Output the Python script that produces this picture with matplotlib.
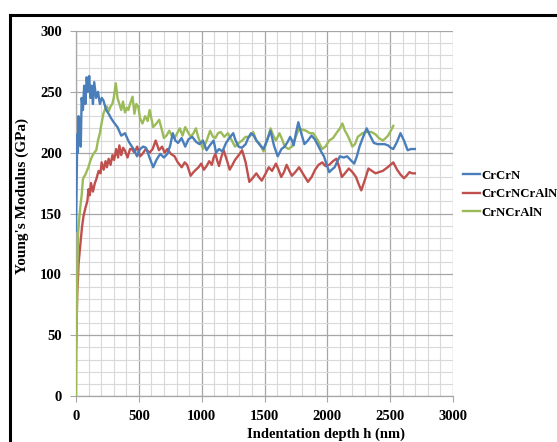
import matplotlib
matplotlib.use("Agg")
import matplotlib.pyplot as plt
from matplotlib.lines import Line2D
from matplotlib.ticker import MultipleLocator

# CrCrN (blue)
crcrn_h = [0, 5, 10, 15, 20, 25, 30, 38, 45, 55, 65, 75, 85, 95, 105, 115, 125, 135, 145,
           160, 175, 190, 205, 218, 240, 260, 275, 300, 330, 360, 390, 420, 445, 465, 485,
           510, 535, 557, 585, 614, 640, 670, 700, 727, 750, 770, 790, 812, 840, 869, 895,
           925, 955, 982, 1010, 1039, 1065, 1095, 1115, 1138, 1165, 1194, 1220, 1251, 1270,
           1293, 1320, 1350, 1370, 1393, 1415, 1435, 1465, 1492, 1520, 1548, 1575, 1605,
           1635, 1661, 1685, 1704, 1718, 1732, 1750, 1769, 1795, 1818, 1845, 1874, 1900,
           1931, 1950, 1973, 1995, 2015, 2035, 2058, 2080, 2100, 2130, 2157, 2185, 2214,
           2235, 2256, 2285, 2313, 2340, 2370, 2400, 2426, 2455, 2483, 2505, 2525, 2555,
           2582, 2610, 2639, 2665, 2696]
crcrn_e = [136, 175, 215, 200, 230, 210, 228, 205, 245, 235, 255, 240, 262, 250, 263, 245,
           255, 240, 258, 245, 250, 240, 245, 243, 235, 232, 229, 225, 221, 214, 216, 209,
           205, 202, 197, 203, 205, 204, 196, 188, 194, 199, 196, 199, 206, 216, 210, 208,
           212, 205, 211, 213, 209, 207, 210, 202, 206, 210, 200, 203, 201, 208, 212, 216,
           210, 205, 204, 207, 212, 216, 214, 210, 206, 203, 210, 218, 206, 197, 203, 205,
           209, 213, 210, 206, 216, 225, 215, 207, 210, 214, 211, 205, 201, 197, 190, 184,
           186, 188, 193, 197, 196, 197, 194, 191, 197, 205, 213, 220, 214, 208, 207, 207,
           207, 206, 204, 203, 209, 216, 210, 202, 203, 203]

# CrCrNCrAlN (red)
crcrncraln_h = [0, 5, 10, 15, 20, 25, 35, 48, 60, 76, 90, 100, 110, 119, 135, 150, 161, 180,
                195, 204, 220, 235, 246, 260, 275, 290, 303, 320, 335, 345, 360, 375, 388,
                410, 430, 445, 465, 487, 510, 529, 555, 586, 610, 634, 660, 685, 705, 727,
                755, 784, 810, 841, 865, 884, 900, 912, 935, 954, 975, 996, 1018, 1039,
                1060, 1081, 1095, 1109, 1125, 1138, 1155, 1175, 1200, 1223, 1245, 1265,
                1295, 1322, 1350, 1379, 1405, 1435, 1455, 1478, 1505, 1534, 1560, 1591,
                1612, 1633, 1655, 1676, 1698, 1718, 1745, 1775, 1810, 1846, 1875, 1903,
                1930, 1959, 1985, 2015, 2045, 2072, 2095, 2115, 2140, 2171, 2200, 2228,
                2250, 2270, 2300, 2327, 2355, 2384, 2410, 2441, 2480, 2525, 2555, 2582,
                2610, 2630, 2653, 2675, 2696]
crcrncraln_e = [40, 60, 85, 95, 108, 114, 125, 139, 148, 155, 160, 170, 165, 175, 168, 175,
                178, 185, 183, 192, 186, 193, 188, 195, 190, 198, 194, 203, 196, 206, 198,
                204, 202, 196, 203, 203, 200, 205, 197, 199, 203, 200, 203, 210, 202, 205,
                200, 203, 199, 197, 192, 188, 192, 190, 185, 181, 184, 186, 188, 191, 186,
                189, 193, 190, 196, 199, 193, 189, 196, 202, 194, 186, 190, 194, 198, 202,
                192, 176, 179, 183, 180, 177, 182, 188, 185, 191, 186, 180, 184, 190, 185,
                181, 184, 188, 182, 176, 180, 186, 190, 192, 189, 190, 193, 195, 188, 180,
                183, 187, 184, 180, 174, 169, 178, 187, 185, 183, 184, 185, 188, 192, 186,
                182, 179, 181, 184, 183, 183]

# CrNCrAlN (green)
crncraln_h = [0, 3, 8, 12, 17, 25, 34, 45, 55, 62, 75, 90, 99, 110, 120, 133, 145, 161, 175,
              190, 205, 218, 232, 246, 260, 275, 289, 300, 317, 330, 345, 360, 374, 390,
              404, 416, 430, 450, 465, 480, 495, 510, 529, 550, 570, 586, 600, 614, 640,
              662, 680, 699, 720, 742, 762, 784, 805, 826, 848, 869, 890, 912, 935, 954,
              975, 995, 1011, 1040, 1067, 1090, 1109, 1130, 1152, 1180, 1209, 1235, 1265,
              1295, 1322, 1350, 1379, 1410, 1435, 1465, 1492, 1520, 1548, 1570, 1591,
              1605, 1619, 1640, 1661, 1690, 1718, 1745, 1775, 1800, 1831, 1860, 1888,
              1925, 1959, 1985, 2015, 2045, 2072, 2100, 2120, 2140, 2157, 2180, 2199,
              2220, 2242, 2280, 2313, 2350, 2384, 2410, 2441, 2465, 2483, 2505, 2525]
crncraln_e = [0, 40, 79, 110, 134, 145, 155, 165, 178, 180, 182, 186, 188, 192, 195, 198,
              200, 202, 210, 216, 225, 232, 236, 238, 234, 238, 240, 245, 257, 245, 240,
              235, 242, 233, 237, 235, 240, 246, 232, 240, 238, 228, 224, 230, 226, 235,
              228, 221, 224, 227, 220, 212, 214, 218, 214, 212, 216, 220, 214, 221, 217,
              213, 216, 220, 212, 207, 203, 210, 218, 213, 212, 216, 217, 213, 216, 211,
              205, 208, 210, 213, 213, 217, 210, 207, 201, 210, 220, 214, 210, 213, 216,
              211, 205, 203, 205, 212, 220, 219, 218, 216, 216, 210, 203, 205, 210, 212,
              216, 220, 224, 218, 215, 210, 205, 207, 213, 216, 217, 217, 215, 212, 210,
              212, 214, 218, 222]

x_ticks = [0, 500, 1000, 1500, 2000, 2500, 3000]
y_ticks = [0, 50, 100, 150, 200, 250, 300]

plt.rcParams["font.family"] = ["Liberation Serif", "DejaVu Serif"]
plt.rcParams["font.weight"] = "bold"

fig = plt.figure(figsize=(5.57, 4.42), dpi=100)
ax = fig.add_axes([76 / 557, 46 / 442, 377 / 557, 365 / 442])

ax.plot(crcrn_h, crcrn_e, color="#4a7ebb", lw=1.7, label="CrCrN", zorder=4)
ax.plot(crcrncraln_h, crcrncraln_e, color="#c0504d", lw=1.7, label="CrCrNCrAlN", zorder=3)
ax.plot(crncraln_h, crncraln_e, color="#9bbb59", lw=1.7, label="CrNCrAlN", zorder=3)

ax.set_xlim(0, 3000)
ax.set_ylim(0, 300)
ax.set_xticks(x_ticks)
ax.set_yticks(y_ticks)
ax.xaxis.set_minor_locator(MultipleLocator(100))
ax.yaxis.set_minor_locator(MultipleLocator(10))
ax.grid(which="major", color="#a6a6a6", lw=0.9, zorder=1)
ax.grid(which="minor", color="#d9d9d9", lw=0.8, zorder=0)
ax.set_axisbelow(True)
for s in ["top", "right"]:
    ax.spines[s].set_visible(False)
for s in ["left", "bottom"]:
    ax.spines[s].set_color("#a6a6a6")
    ax.spines[s].set_linewidth(0.9)
ax.tick_params(which="major", length=4, color="#a6a6a6", labelsize=10.5, pad=6)
ax.tick_params(which="minor", length=0)
ax.set_xlabel("Indentation depth h (nm)", fontsize=10.5, fontweight="bold")
ax.xaxis.set_label_coords(0.663, -0.085)
ax.set_ylabel("Young's Modulus (GPa)", fontsize=11, fontweight="bold")
ax.yaxis.set_label_coords(-0.125, 0.548)

leg = ax.legend(loc="center left", bbox_to_anchor=(1.0265, 0.553), frameon=False,
                borderaxespad=0, borderpad=0,
                prop={"family": ["Liberation Serif"], "weight": "bold", "size": 9.2},
                handlelength=1.35, handletextpad=0.08, labelspacing=0.52)

# figure border (left and top edges visible, the rest runs off the picture)
fig.add_artist(Line2D([10 / 557, 10 / 557], [0, 1 - 15 / 442], color="black", lw=2.2,
                      transform=fig.transFigure))
fig.add_artist(Line2D([10 / 557, 1], [1 - 15 / 442, 1 - 15 / 442], color="black", lw=2.2,
                      transform=fig.transFigure))

fig.savefig("out.png", dpi=100)
